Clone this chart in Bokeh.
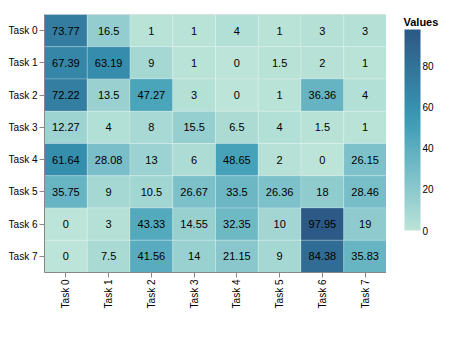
import numpy as np
from bokeh.plotting import figure
from bokeh.layouts import row
from bokeh.models import ColumnDataSource, LinearColorMapper, ColorBar, FixedTicker, Label, Range1d
from bokeh.transform import transform
from bokeh.core.properties import value
from bokeh.embed import file_html
from bokeh.resources import INLINE

tasks = ["Task 0", "Task 1", "Task 2", "Task 3", "Task 4", "Task 5", "Task 6", "Task 7"]

# rows: y task, columns: x task
row_task0 = [73.77, 16.5, 1, 1, 4, 1, 3, 3]
row_task1 = [67.39, 63.19, 9, 1, 0, 1.5, 2, 1]
row_task2 = [72.22, 13.5, 47.27, 3, 0, 1, 36.36, 4]
row_task3 = [12.27, 4, 8, 15.5, 6.5, 4, 1.5, 1]
row_task4 = [61.64, 28.08, 13, 6, 48.65, 2, 0, 26.15]
row_task5 = [35.75, 9, 10.5, 26.67, 33.5, 26.36, 18, 28.46]
row_task6 = [0, 3, 43.33, 14.55, 32.35, 10, 97.95, 19]
row_task7 = [0, 7.5, 41.56, 14, 21.15, 9, 84.38, 35.83]
rows = [row_task0, row_task1, row_task2, row_task3, row_task4, row_task5, row_task6, row_task7]

legend_ticks = [0, 20, 40, 60, 80]
legend_title = "Values"

xs, ys, vs, labels = [], [], [], []
for yi, r in enumerate(rows):
    for xi, v in enumerate(r):
        xs.append(tasks[xi])
        ys.append(tasks[yi])
        vs.append(v)
        labels.append(f"{v:g}")
src = ColumnDataSource(dict(x=xs, y=ys, v=vs, label=labels))

# Vega "tealblues" scheme stops
stops = ["#bce4d8", "#9dd3d1", "#81c3cb", "#65b3c2", "#45a2b9", "#368fae", "#347da0", "#306a93", "#2c5985"]
def hex2rgb(h):
    h = h.lstrip("#")
    return np.array([int(h[i:i + 2], 16) for i in (0, 2, 4)], dtype=float)
srgb = np.array([hex2rgb(s) for s in stops])
pos = np.linspace(0, 1, len(stops))
palette = []
for t in np.linspace(0, 1, 256):
    c = [np.interp(t, pos, srgb[:, k]) for k in range(3)]
    palette.append("#%02x%02x%02x" % tuple(int(round(q)) for q in c))

mapper = LinearColorMapper(palette=palette, low=0, high=max(vs))

FONT = "Liberation Sans"
p = figure(width=386, height=345, x_range=tasks, y_range=list(reversed(tasks)),
           output_backend="svg", toolbar_location=None,
           min_border_left=44, min_border_top=14, min_border_right=0, min_border_bottom=73)

p.rect(x="x", y="y", width=1, height=1, source=src,
       fill_color=transform("v", mapper), line_color="white", line_alpha=0.35, line_width=0.6)
p.text(x="x", y="y", text="label", source=src, text_align="center", text_baseline="middle",
       text_font_size="11px", text_font=value(FONT), text_color="black")

p.grid.grid_line_color = None
p.outline_line_color = "#dddddd"
for ax in (p.xaxis[0], p.yaxis[0]):
    ax.axis_line_color = "#888888"
    ax.major_tick_line_color = "#888888"
    ax.minor_tick_line_color = None
    ax.major_tick_in = 0
    ax.major_tick_out = 5
    ax.major_label_text_font_size = "10px"
    ax.major_label_text_font = FONT
    ax.major_label_text_color = "black"
    ax.major_label_standoff = 2
p.xaxis.major_label_orientation = np.pi / 2

# legend panel: a separate figure next to the heatmap
lg = figure(width=71, height=345, output_backend="svg", toolbar_location=None,
            x_range=Range1d(0, 1), y_range=Range1d(0, 1),
            min_border=0, outline_line_color=None)
lg.axis.visible = False
lg.grid.visible = False

cb = ColorBar(color_mapper=mapper, ticker=FixedTicker(ticks=legend_ticks),
              width=16, height=201, title=None,
              major_label_text_font_size="10px", major_label_text_font=FONT,
              major_label_text_color="black",
              major_tick_line_color=None, bar_line_color=None, padding=0, margin=0,
              label_standoff=2, background_fill_alpha=0, border_line_color=None,
              location=(18, 42))
lg.add_layout(cb)

title = Label(x=17, y=251, x_units="screen", y_units="screen", text=legend_title,
              text_font=FONT, text_font_size="11px", text_font_style="bold",
              text_baseline="alphabetic", text_align="left", text_color="black")
lg.add_layout(title)

layout = row(p, lg, spacing=0)
open("out.html", "w").write(file_html(layout, INLINE))
